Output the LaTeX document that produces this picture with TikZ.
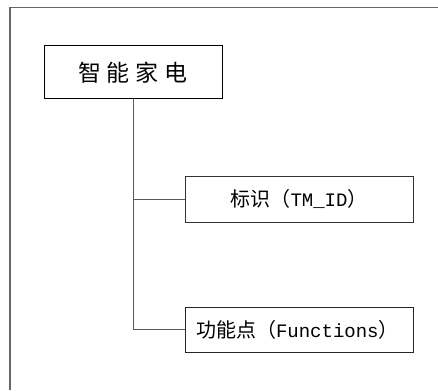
\documentclass[tikz,border=0pt]{standalone}
\usepackage{fontspec}
\newfontfamily\cjk{Noto Sans CJK SC}
\newfontfamily\mono{Liberation Mono}
\begin{document}
\begin{tikzpicture}[x=1pt,y=-1pt,
  box/.style={draw=#1,line width=1pt,inner sep=0pt,fill=white},
  conn/.style={draw=black!65,line width=1pt}]
\useasboundingbox (0,0) rectangle (438,390);
\fill[white] (0,0) rectangle (438,390);
\coordinate (ftop) at (438,7.5);
\coordinate (fcorner) at (10,7.5);
\coordinate (fbot) at (10,390);
\draw[black!60,line width=1.2pt] (ftop) -- (fcorner) -- (fbot);
\node[box=black,minimum width=178pt,minimum height=53pt] (root) at (133,72.5)
  {\cjk\fontsize{23pt}{25pt}\selectfont 智\hspace{6pt}能\hspace{6pt}家\hspace{6pt}电};
\node[box=black!80,minimum width=228pt,minimum height=46pt] (id) at (299,199)
  {\cjk\fontsize{20pt}{22pt}\selectfont 标识（{\mono\fontsize{19pt}{22pt}\selectfont TM\_ID}）};
\node[box=black!85,minimum width=228pt,minimum height=45pt,text width=206pt,align=left,inner xsep=11pt] (fn) at (299,329.5)
  {\cjk\fontsize{20pt}{22pt}\selectfont 功能点（{\mono\fontsize{19pt}{22pt}\selectfont Functions}）};
\draw[conn] (root.south) |- (id.west);
\draw[conn] (root.south) |- (fn.west);
\end{tikzpicture}
\end{document}
